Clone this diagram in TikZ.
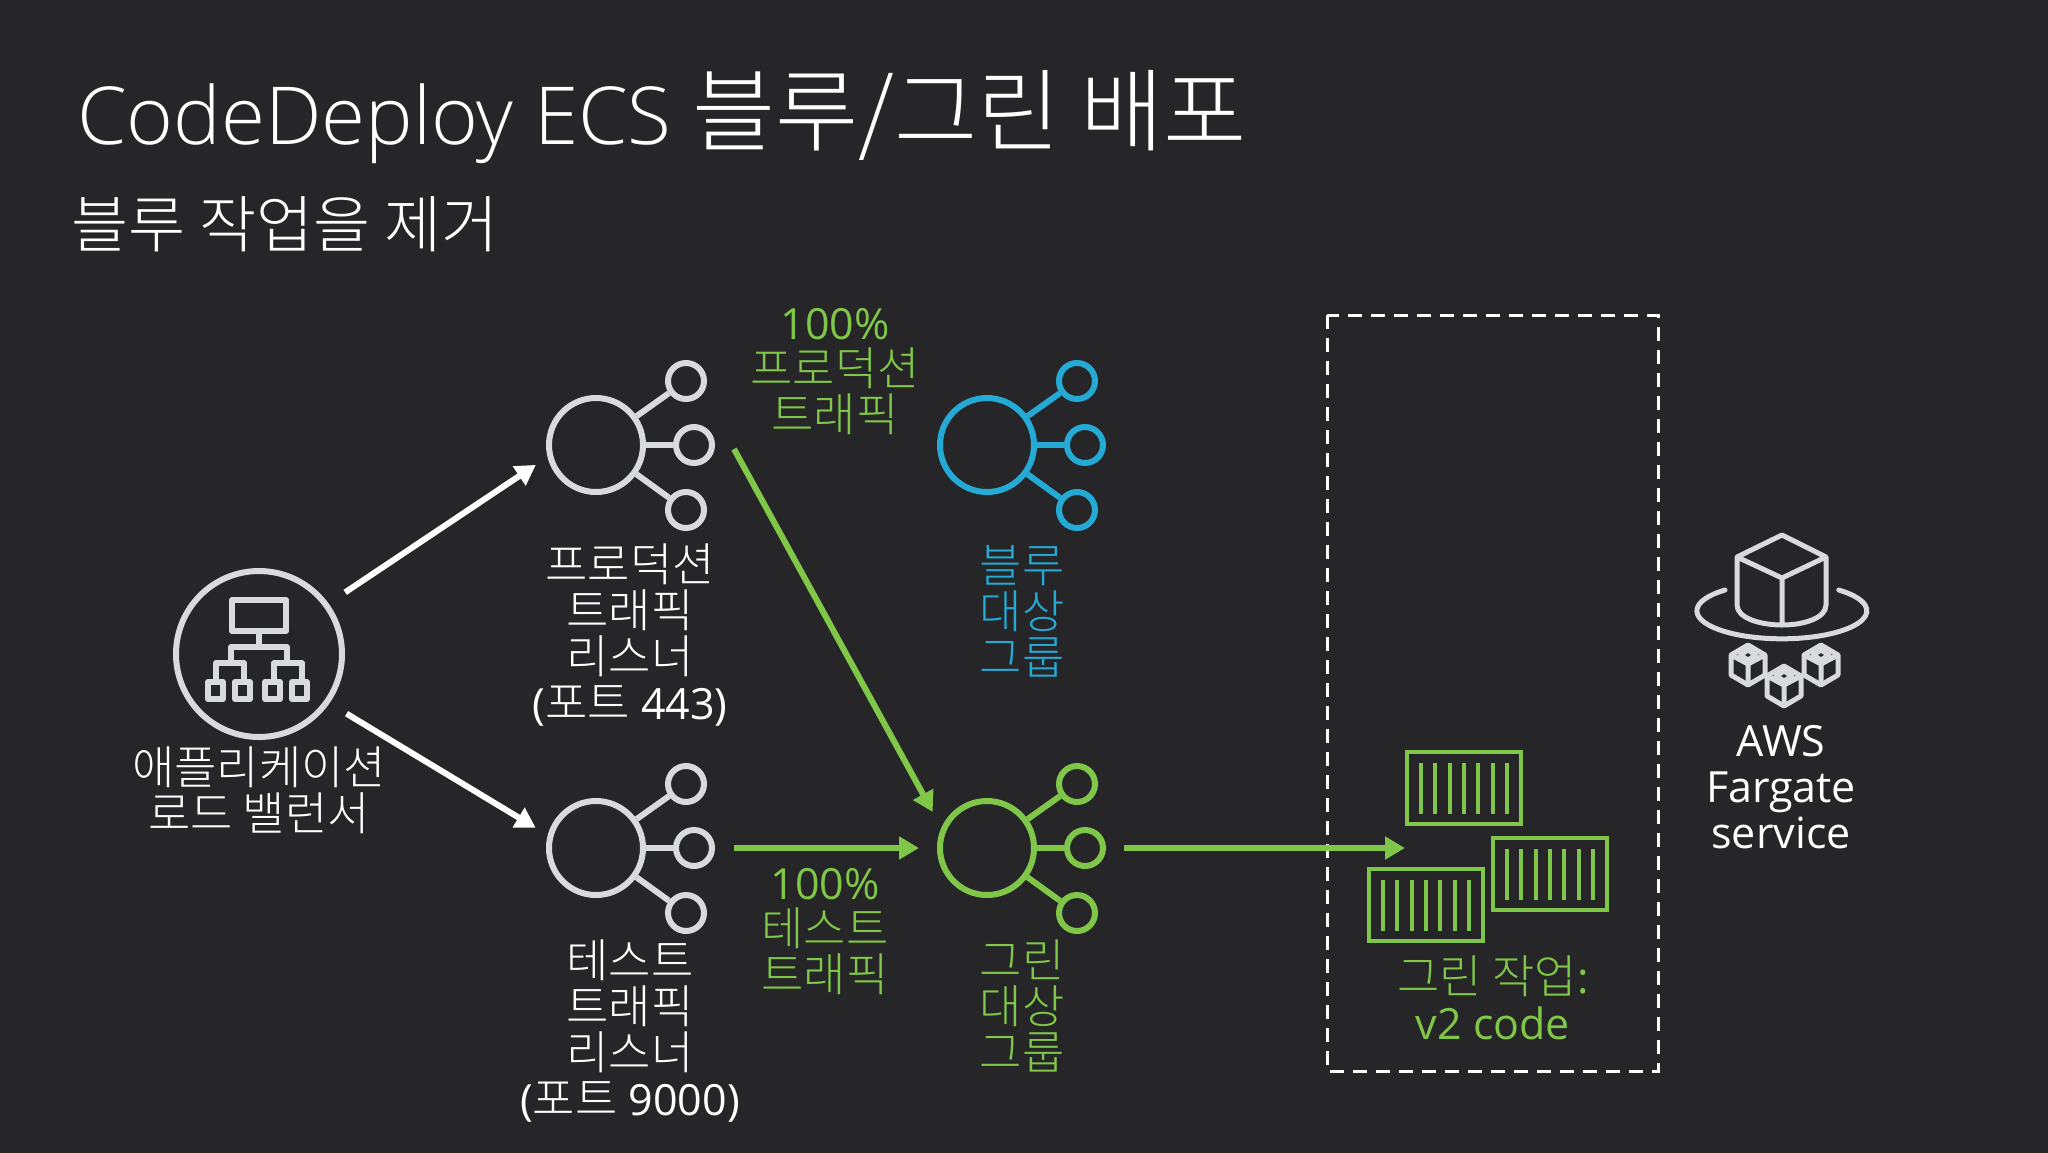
\documentclass[tikz,border=0pt]{standalone}
\usepackage{fontspec}
\setmainfont{Open Sans}
\newfontfamily\titlefont{Open Sans}[UprightFont=* Light]
\newfontfamily\krfont{Noto Sans CJK KR}[UprightFont=* Light,Scale=1.07]
\newfontfamily\krtitlefont{Noto Sans CJK KR}[UprightFont=* Light,Scale=1.13]
\newcommand{\kr}[1]{{\krfont #1}}
\usetikzlibrary{arrows.meta}
\definecolor{slidebg}{RGB}{38,38,40}
\definecolor{icongrey}{RGB}{217,218,219}
\definecolor{icongreen}{RGB}{128,198,72}
\definecolor{iconblue}{RGB}{37,170,214}
\tikzset{
  lbl/.style={font=\fontsize{43pt}{46pt}\selectfont,align=center,text=white,inner sep=0pt},
  hubdisc/.style={circle,draw=#1,line width=6pt,inner sep=0pt},
  flow/.style={-{Triangle[length=20pt,width=22pt]},line width=6pt,draw=#1},
  crate/.pic={
    \draw[icongreen,line width=4pt] (0,0) rectangle (114,72);
    \foreach \x in {0,...,6} \draw[icongreen,line width=4pt] (14+14.3*\x,11) -- (14+14.3*\x,62);
  },
  hub/.pic={
    \node[hubdisc=#1,minimum size=94pt] (-big) at (0,0) {};
    \node[hubdisc=#1,minimum size=36pt] (-a) at (90,-64) {};
    \node[hubdisc=#1,minimum size=36pt] (-b) at (98,0) {};
    \node[hubdisc=#1,minimum size=36pt] (-c) at (90,65) {};
    \foreach \n in {a,b,c} \draw[#1,line width=6pt] (-big) -- (-\n);
  },
  cubelet/.pic={
    \draw[icongrey,line width=5pt,line join=round] (0,-20) -- (17,-10) -- (17,10) -- (0,20) -- (-17,10) -- (-17,-10) -- cycle;
    \draw[icongrey,line width=5pt,line join=round] (-17,-10) -- (0,-1) -- (17,-10) (0,-1) -- (0,20) (-8,-10) -- (0,-15) -- (8,-10) -- (0,-5) -- cycle;
  },
}
\begin{document}
\begin{tikzpicture}[x=1pt,y=-1pt]
\useasboundingbox (0,0) rectangle (2048,1152);
\fill[slidebg] (-5,-5) rectangle (2053,1157);

\node[lbl,anchor=base west,font=\fontsize{80pt}{90pt}\titlefont] (title) at (77,144) {CodeDeploy ECS {\krtitlefont 블루/그린 배포}};
\node[lbl,anchor=base west,font=\fontsize{58pt}{60pt}\selectfont] (subtitle) at (71,247) {\kr{블루 작업을 제거}};

\node[circle,draw=icongrey,line width=6pt,minimum size=166pt,inner sep=0pt] (alb) at (259,654) {};
\draw[icongrey,line width=6pt,line join=round] (232,600) rectangle (286,631);
\draw[icongrey,line width=6pt,line join=round] (259,632) -- (259,647) (231,663) -- (231,647) -- (287,647) -- (287,663)
  (216,680) -- (216,663) -- (244,663) -- (244,680) (274,680) -- (274,663) -- (302,663) -- (302,680);
\foreach \x in {208,235,265,292} \draw[icongrey,line width=6pt,line join=round] (\x,682) rectangle (\x+15,699);

\pic (prod) at (596,445) {hub=icongrey};
\pic (test) at (596,848) {hub=icongrey};
\pic (blue) at (987,445) {hub=iconblue};
\pic (green) at (987,848) {hub=icongreen};

\draw[dashed,white,line width=3pt,dash pattern=on 14pt off 9pt] (1327,315) rectangle (1658,1071);
\coordinate (taskin) at (1405,848);

\draw[flow=white,shorten <=20pt,shorten >=14pt] (alb.36) -- (prod-big.194);
\draw[flow=white,shorten <=20pt,shorten >=14pt] (alb.-35) -- (test-big.165);
\draw[flow=icongreen,shorten >=18pt] ([xshift=19pt,yshift=-4pt]prod-b.east) -- (green-big.156);
\draw[flow=icongreen,shorten >=18pt] ([xshift=19pt]test-b.east) -- (green-big.west);
\draw[flow=icongreen,shorten <=18pt] (green-b.east) -- (taskin);

\pic (crateone) at (1407,752) {crate};
\pic (cratetwo) at (1493,838) {crate};
\pic (cratethree) at (1369,869) {crate};

\draw[icongrey,line width=5pt,line join=round] (1737,557) -- (1782,535) -- (1826,557) -- (1782,578) -- cycle (1782,578) -- (1782,625)
  (1737,557) -- (1737,605) .. controls (1737,618) and (1760,625) .. (1782,625) .. controls (1804,625) and (1826,618) .. (1826,605) -- (1826,557);
\draw[icongrey,line width=5pt,line cap=round] (1725,590) arc[start angle=132,end angle=408,x radius=85,y radius=-28];
\pic (cubeone) at (1748,665) {cubelet};
\pic (cubetwo) at (1784,686) {cubelet};
\pic (cubethree) at (1821,665) {cubelet};

\node[lbl] (alblabel) at (259,790) {\kr{애플리케이션}\\\kr{로드 밸런서}};
\node[lbl] (prodlabel) at (630,635) {\kr{프로덕션}\\\kr{트래픽}\\\kr{리스너}\\(\kr{포트} 443)};
\node[lbl] (testlabel) at (630,1031) {\kr{테스트}\\\kr{트래픽}\\\kr{리스너}\\(\kr{포트} 9000)};
\node[lbl,text=iconblue] (bluelabel) at (1022,611) {\kr{블루}\\\kr{대상}\\\kr{그룹}};
\node[lbl,text=icongreen] (greenlabel) at (1022,1006) {\kr{그린}\\\kr{대상}\\\kr{그룹}};
\node[lbl,text=icongreen] (prodflow) at (835,372) {100\%\\\kr{프로덕션}\\\kr{트래픽}};
\node[lbl,text=icongreen] (testflow) at (825,932) {100\%\\\kr{테스트}\\\kr{트래픽}};
\node[lbl,text=icongreen] (tasklabel) at (1493,998) {\kr{그린 작업}:\\v2 code};
\node[lbl] (fargatelabel) at (1781,787) {AWS\\Fargate\\service};
\end{tikzpicture}
\end{document}
